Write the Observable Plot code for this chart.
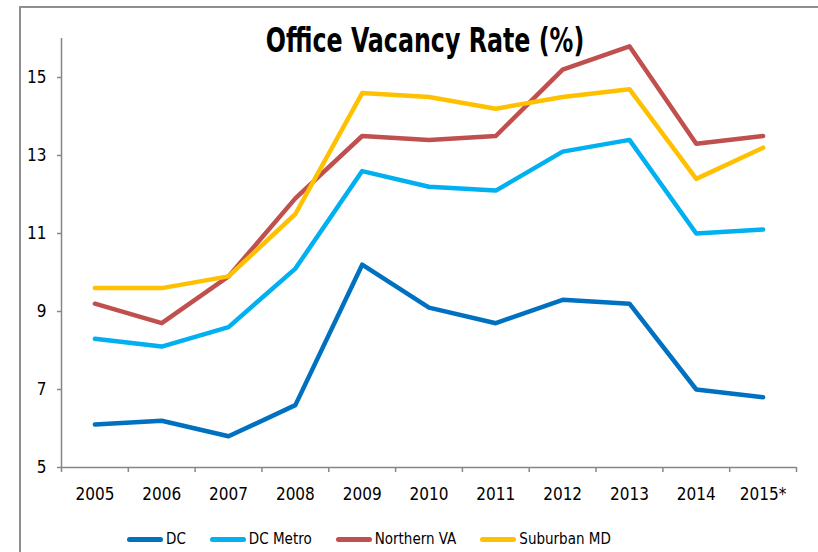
<!DOCTYPE html>
<html>
<head>
<meta charset="utf-8">
<script src="https://cdn.jsdelivr.net/npm/d3@7"></script>
<script src="https://cdn.jsdelivr.net/npm/@observablehq/plot@0.6"></script>
<style>
  html, body { margin: 0; padding: 0; background: #fff; }
  #wrap { position: relative; width: 818px; height: 552px; overflow: hidden; font-family: "DejaVu Sans Condensed", "Liberation Sans", sans-serif; }
  #border { position: absolute; left: 19px; top: 6px; width: 900px; height: 700px; border-left: 2px solid #8f8f8f; border-top: 2px solid #8f8f8f; }
  #chart { position: absolute; left: 0; top: 0; }
  #title { position: absolute; left: 425px; top: 24px; transform: translateX(-50%) scaleX(0.8); font-size: 33px; line-height: 33px; font-weight: bold; white-space: nowrap; color: #000; }
  #legend { position: absolute; left: 127px; top: 529px; display: flex; align-items: center; font-size: 15px; line-height: 20px; color: #000; }
  .item { display: flex; align-items: center; margin-right: 24px; }
  .sw { width: 36px; height: 5px; border-radius: 3px; margin-right: 3px; }
</style>
</head>
<body>
<div id="wrap">
  <div id="border"></div>
  <div id="chart"></div>
  <div id="title">Office Vacancy Rate (%)</div>
  <div id="legend"></div>
</div>
<script>
const years = ["2005","2006","2007","2008","2009","2010","2011","2012","2013","2014","2015*"];
const seriesNames = ["DC", "DC Metro", "Northern VA", "Suburban MD"];
const dc         = [6.1, 6.2, 5.8, 6.6, 10.2, 9.1, 8.7, 9.3, 9.2, 7.0, 6.8];
const dcMetro    = [8.3, 8.1, 8.6, 10.1, 12.6, 12.2, 12.1, 13.1, 13.4, 11.0, 11.1];
const northernVA = [9.2, 8.7, 9.9, 11.9, 13.5, 13.4, 13.5, 15.2, 15.8, 13.3, 13.5];
const suburbanMD = [9.6, 9.6, 9.9, 11.5, 14.6, 14.5, 14.2, 14.5, 14.7, 12.4, 13.2];
const yTicks = [5, 7, 9, 11, 13, 15];
const colors = ["#0070C0", "#00B0F0", "#C0504D", "#FFC000"];

const seriesValues = [dc, dcMetro, northernVA, suburbanMD];
const data = [];
seriesNames.forEach((s, k) => {
  seriesValues[k].forEach((v, i) => data.push({series: s, i, year: years[i], value: v}));
});

const idx = years.map((_, i) => i);
const boundaries = d3.range(years.length + 1).map(i => i - 0.5);
const gray = "#868686";

const chart = Plot.plot({
  width: 818,
  height: 510,
  marginLeft: 61,
  marginRight: 22,
  marginTop: 38,
  marginBottom: 43,
  style: {fontFamily: '"DejaVu Sans Condensed", "Liberation Sans", sans-serif', fontSize: "17px", color: "#000", background: "transparent"},
  x: {type: "linear", domain: [-0.5, years.length - 0.5]},
  y: {domain: [5, 16]},
  color: {domain: seriesNames, range: colors},
  marks: [
    Plot.ruleX([-0.5], {stroke: gray, strokeWidth: 1.5}),
    Plot.ruleY([5], {stroke: gray, strokeWidth: 1.5}),
    Plot.axisY({ticks: yTicks, tickSize: 4, tickPadding: 11, stroke: gray, strokeWidth: 1.5, label: null, fill: "#000", fontSize: 17}),
    Plot.axisX({ticks: boundaries, tickSize: 5, tickFormat: () => "", stroke: gray, strokeWidth: 1.5, label: null}),
    Plot.axisX({ticks: idx, tickSize: 0, tickPadding: 20, tickFormat: i => years[i], label: null, fill: "#000", fontSize: 17}),
    Plot.line(data, {x: "i", y: "value", z: "series", stroke: "series", strokeWidth: 4.5, strokeLinejoin: "round", strokeLinecap: "round"})
  ]
});
document.getElementById("chart").appendChild(chart);

const legend = document.getElementById("legend");
seriesNames.forEach((s, k) => {
  const item = document.createElement("div");
  item.className = "item";
  const sw = document.createElement("div");
  sw.className = "sw";
  sw.style.background = colors[k];
  const t = document.createElement("span");
  t.textContent = s;
  item.appendChild(sw);
  item.appendChild(t);
  legend.appendChild(item);
});
</script>
</body>
</html>
